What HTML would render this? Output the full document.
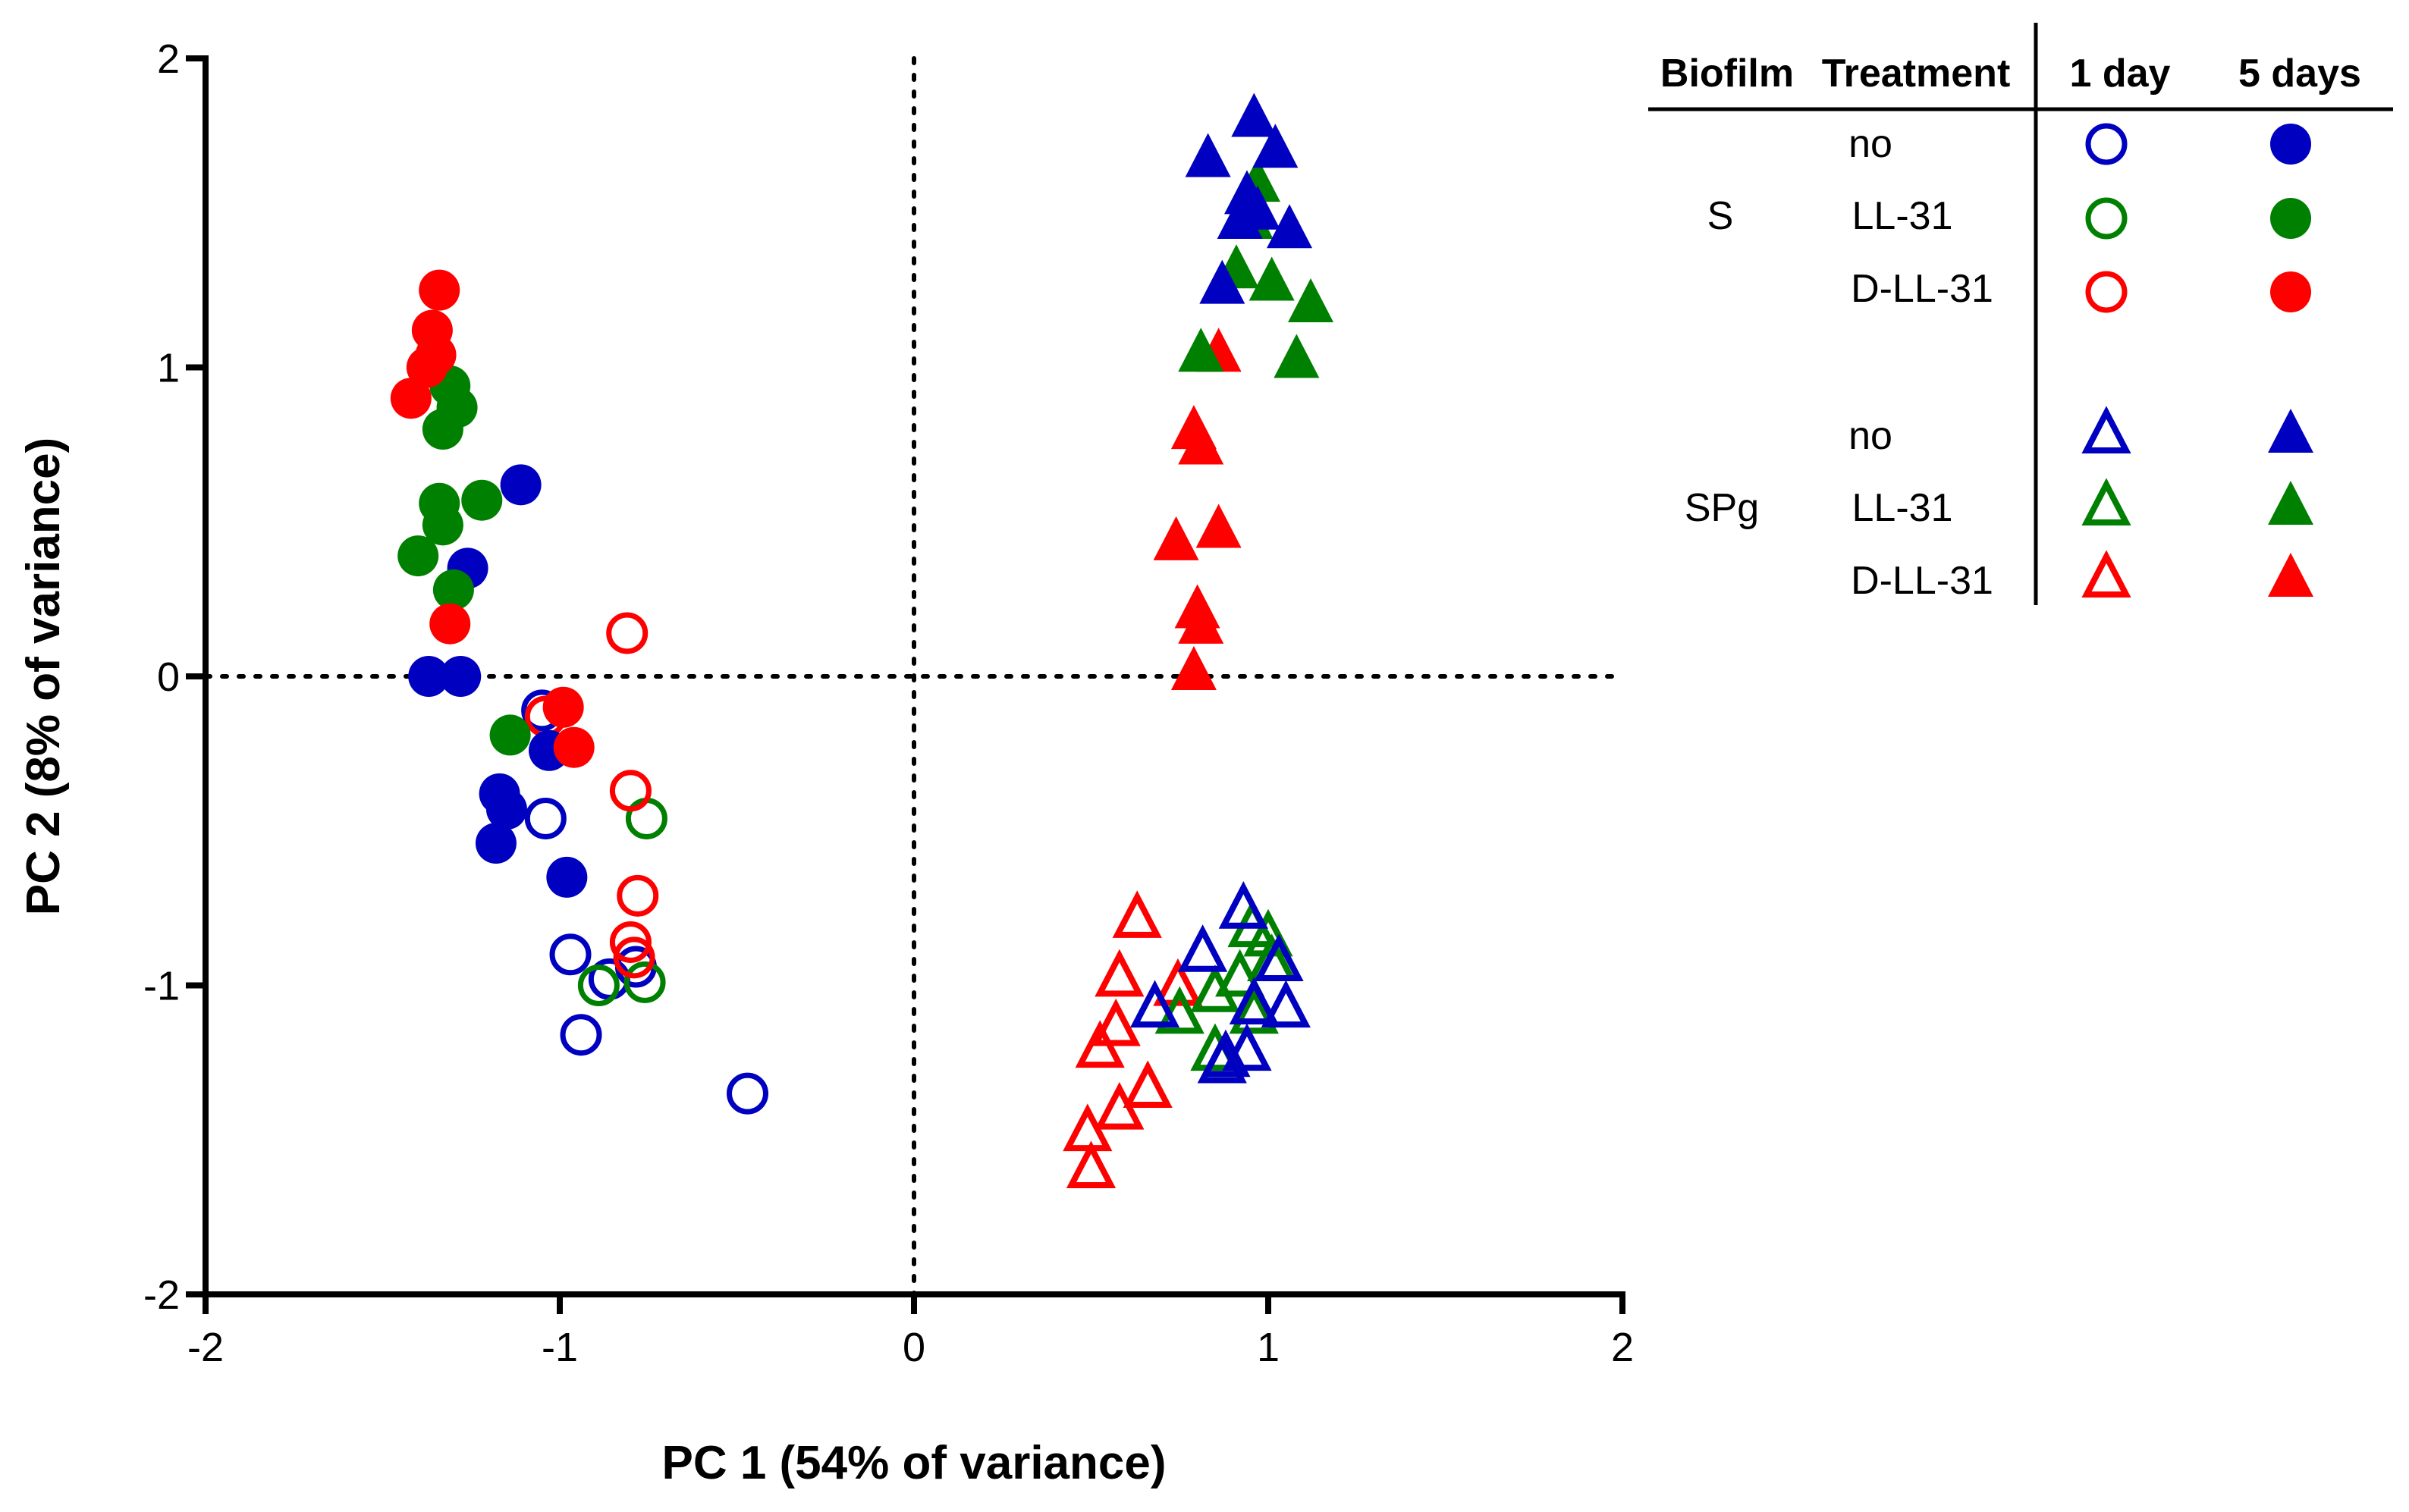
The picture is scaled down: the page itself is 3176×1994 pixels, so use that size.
<!DOCTYPE html>
<html><head><meta charset="utf-8"><style>
html,body{margin:0;padding:0;background:#fff}
svg{display:block;font-family:"Liberation Sans",Arial,sans-serif}
</style></head><body>
<svg id="chart" width="3176" height="1994" viewBox="0 0 3176 1994" xmlns="http://www.w3.org/2000/svg">
<g id="plot"></g>
<g id="legend" font-size="52">
  <line x1="2684" y1="30" x2="2684" y2="798" stroke="#000" stroke-width="5"/>
  <line x1="2173" y1="144" x2="3155" y2="144" stroke="#000" stroke-width="5"/>
  <text x="2277" y="114" text-anchor="middle" font-weight="bold">Biofilm</text>
  <text x="2526" y="114" text-anchor="middle" font-weight="bold">Treatment</text>
  <text x="2795" y="114" text-anchor="middle" font-weight="bold">1 day</text>
  <text x="3032" y="114" text-anchor="middle" font-weight="bold">5 days</text>
  <text x="2268" y="302" text-anchor="middle">S</text>
  <text x="2270" y="687" text-anchor="middle">SPg</text>
  <text x="2466" y="207" text-anchor="middle">no</text>
  <text x="2508" y="302" text-anchor="middle">LL-31</text>
  <text x="2534" y="398" text-anchor="middle">D-LL-31</text>
  <text x="2466" y="592" text-anchor="middle">no</text>
  <text x="2508" y="687" text-anchor="middle">LL-31</text>
  <text x="2534" y="783" text-anchor="middle">D-LL-31</text>
  <g id="legmarks"></g>
</g>
</svg>
<script>
const NS="http://www.w3.org/2000/svg";
const xTicks=[-2,-1,0,1,2];
const yTicks=[-2,-1,0,1,2];
const xTitle="PC 1 (54% of variance)";
const yTitle="PC 2 (8% of variance)";
const colors={blue:"#0000c0",green:"#008000",red:"#ff0000"};
// S biofilm (circles)
const sNo1X=[-1.05,-1.04,-0.97,-0.86,-0.785,-0.94,-0.47];
const sNo1Y=[-0.11,-0.46,-0.90,-0.98,-0.94,-1.16,-1.35];
const sNo5X=[-1.11,-1.26,-1.37,-1.28,-1.03,-1.17,-1.15,-1.18,-0.98];
const sNo5Y=[0.62,0.35,0.0,0.0,-0.24,-0.38,-0.43,-0.54,-0.65];
const sLL1X=[-0.755,-0.89,-0.76];
const sLL1Y=[-0.46,-1.0,-0.99];
const sLL5X=[-1.31,-1.29,-1.33,-1.34,-1.33,-1.22,-1.40,-1.30,-1.14];
const sLL5Y=[0.94,0.87,0.80,0.56,0.49,0.57,0.39,0.28,-0.19];
const sDLL1X=[-0.81,-1.04,-0.80,-0.78,-0.80,-0.79];
const sDLL1Y=[0.14,-0.13,-0.37,-0.71,-0.86,-0.91];
const sDLL5X=[-1.34,-1.36,-1.375,-1.35,-1.42,-1.31,-0.99,-0.96];
const sDLL5Y=[1.25,1.12,1.0,1.04,0.90,0.17,-0.10,-0.23];
// SPg biofilm (triangles)
const pNo1X=[0.93,0.815,1.03,0.68,0.96,1.05,0.94,0.87,0.88];
const pNo1Y=[-0.76,-0.90,-0.93,-1.08,-1.07,-1.08,-1.22,-1.26,-1.24];
const pNo5X=[0.96,0.83,1.02,0.94,0.97,0.92,1.06,0.87];
const pNo5Y=[1.80,1.67,1.70,1.55,1.50,1.47,1.44,1.26];
const pLL1X=[0.955,1.0,1.01,0.92,0.85,0.75,0.96,0.85];
const pLL1Y=[-0.82,-0.85,-0.93,-0.98,-1.03,-1.10,-1.10,-1.22];
const pLL5X=[0.97,0.95,0.91,1.01,1.12,0.81,1.08];
const pLL5Y=[1.59,1.47,1.31,1.27,1.20,1.04,1.02];
const pDLL1X=[0.63,0.58,0.745,0.57,0.525,0.66,0.58,0.49,0.50];
const pDLL1Y=[-0.79,-0.98,-1.01,-1.14,-1.21,-1.34,-1.41,-1.48,-1.60];
const pDLL5X=[0.86,0.79,0.81,0.74,0.86,0.80,0.81,0.79];
const pDLL5Y=[1.04,0.79,0.74,0.43,0.47,0.21,0.16,0.01];

const X0=271,X1=2139,Y0=1707,Y1=77;
function sx(v){return X0+(v+2)/4*(X1-X0);}
function sy(v){return Y0-(v+2)/4*(Y0-Y1);}
const plot=document.getElementById('plot');
function mk(tag,attrs,parent){const e=document.createElementNS(NS,tag);for(const k in attrs)e.setAttribute(k,attrs[k]);(parent||plot).appendChild(e);return e;}

let zl=mk('line',{x1:sx(0),y1:Y1,x2:sx(0),y2:Y0,stroke:'#000','stroke-width':6,'stroke-dasharray':'6 16','stroke-linecap':'round'});


zl=mk('line',{x1:X0,y1:sy(0),x2:X1,y2:sy(0),stroke:'#000','stroke-width':6,'stroke-dasharray':'6 16','stroke-linecap':'round'});



let ax=mk('line',{x1:X0,y1:Y1-4,x2:X0,y2:Y0+4,stroke:'#000','stroke-width':8});


ax=mk('line',{x1:X0-4,y1:Y0,x2:X1+4,y2:Y0,stroke:'#000','stroke-width':8});


xTicks.forEach(t=>{
  const l=mk('line',{x1:sx(t),y1:Y0,x2:sx(t),y2:Y0+26,stroke:'#000','stroke-width':8});
  
  
  const tx=mk('text',{x:sx(t),y:Y0+88,'text-anchor':'middle','font-size':54});
  tx.textContent=String(t);
  
  
});
yTicks.forEach(t=>{
  const l=mk('line',{x1:X0-26,y1:sy(t),x2:X0,y2:sy(t),stroke:'#000','stroke-width':8});
  
  
  const tx=mk('text',{x:X0-34,y:sy(t)+19,'text-anchor':'end','font-size':54});
  tx.textContent=String(t);
  
  
});
let tt=mk('text',{x:sx(0),y:1950,'text-anchor':'middle','font-size':62,'font-weight':'bold'});
tt.textContent=xTitle;


tt=mk('text',{x:0,y:0,'text-anchor':'middle','font-size':62,'font-weight':'bold',transform:`translate(78,${sy(0)}) rotate(-90)`});
tt.textContent=yTitle;



function marker(shape,cx,cy,color,filled,parent){
  let e;
  if(shape==='c'){
    e=mk('circle',{cx:cx,cy:cy,r:filled?27:24,fill:filled?color:'none',stroke:color,'stroke-width':filled?0:7},parent);
  }else{
    const h=filled?58:50,w=filled?60:52;
    const pts=[[cx,cy-h*0.62],[cx-w/2,cy+h*0.38],[cx+w/2,cy+h*0.38]].map(p=>p.join(',')).join(' ');
    e=mk('polygon',{points:pts,fill:filled?color:'none',stroke:color,'stroke-width':filled?0:8,'stroke-linejoin':'miter'},parent);
  }
  return e;
}
const series=[
 ['c',sNo1X,sNo1Y,colors.blue,false,'s-no-1day'],
 ['c',sLL1X,sLL1Y,colors.green,false,'s-ll31-1day'],
 ['c',sDLL1X,sDLL1Y,colors.red,false,'s-dll31-1day'],
 ['c',sNo5X,sNo5Y,colors.blue,true,'s-no-5day'],
 ['c',sLL5X,sLL5Y,colors.green,true,'s-ll31-5day'],
 ['c',sDLL5X,sDLL5Y,colors.red,true,'s-dll31-5day'],
 ['t',pDLL1X,pDLL1Y,colors.red,false,'spg-dll31-1day'],
 ['t',pLL1X,pLL1Y,colors.green,false,'spg-ll31-1day'],
 ['t',pNo1X,pNo1Y,colors.blue,false,'spg-no-1day'],
 ['t',pDLL5X,pDLL5Y,colors.red,true,'spg-dll31-5day'],
 ['t',pLL5X,pLL5Y,colors.green,true,'spg-ll31-5day'],
 ['t',pNo5X,pNo5Y,colors.blue,true,'spg-no-5day']
];
series.forEach(s=>{
  const g=mk('g',{});
  
  
  s[1].forEach((v,i)=>{
    const m=marker(s[0],sx(v),sy(s[2][i]),s[3],s[4],g);
    
    
  });
});
const lm=document.getElementById('legmarks');
const legRows=[['c',colors.blue,190],['c',colors.green,288],['c',colors.red,385],['t',colors.blue,575],['t',colors.green,670],['t',colors.red,765]];
legRows.forEach((r,i)=>{
  const a=marker(r[0],2777,r[2],r[1],false,lm);
  
  
  const b=marker(r[0],3020,r[2],r[1],true,lm);
  
  
});
</script>
</body></html>
